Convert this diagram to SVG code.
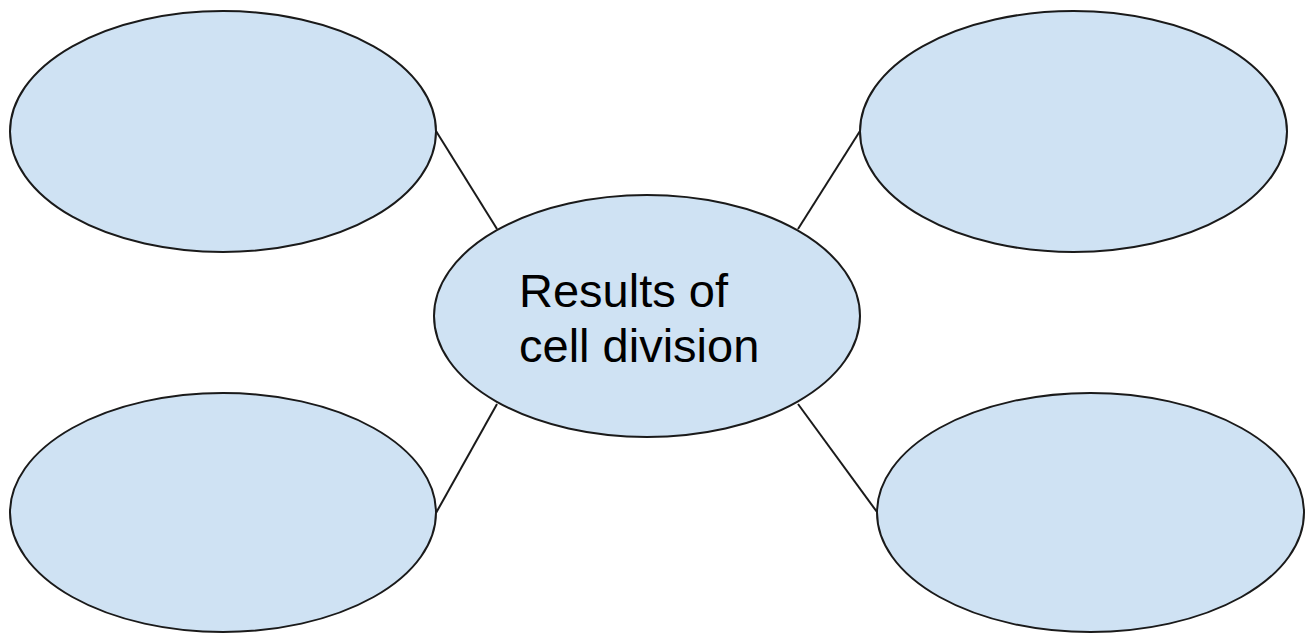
<svg xmlns="http://www.w3.org/2000/svg" width="1311" height="634" viewBox="0 0 1311 634">
<style>
.node ellipse{fill:#cfe2f3;stroke:#1a1a1a;stroke-width:2}
.conn line{stroke:#1a1a1a;stroke-width:2}
.label{font-family:"Liberation Sans",Arial,sans-serif;font-size:47px;fill:#000}
</style>
<rect width="1311" height="634" fill="#fff"/>
<g class="conn" id="connectors">
<line x1="436" y1="131" x2="497" y2="229"/>
<line x1="860" y1="131" x2="798" y2="229"/>
<line x1="497" y1="404" x2="436" y2="513"/>
<line x1="798" y1="404" x2="877" y2="512"/>
</g>
<g class="node" id="top-left"><ellipse cx="223" cy="131.5" rx="213" ry="120.5"/></g>
<g class="node" id="top-right"><ellipse cx="1073.5" cy="131.5" rx="213.5" ry="120.5"/></g>
<g class="node" id="bottom-left"><ellipse cx="223" cy="512.5" rx="213" ry="119.5"/></g>
<g class="node" id="bottom-right"><ellipse cx="1090.5" cy="512.5" rx="213.5" ry="119.5"/></g>
<g class="node" id="center"><ellipse cx="647" cy="316" rx="213" ry="121"/>
<text class="label" x="519" y="307">Results of</text>
<text class="label" x="519" y="362">cell division</text>
</g>
</svg>
